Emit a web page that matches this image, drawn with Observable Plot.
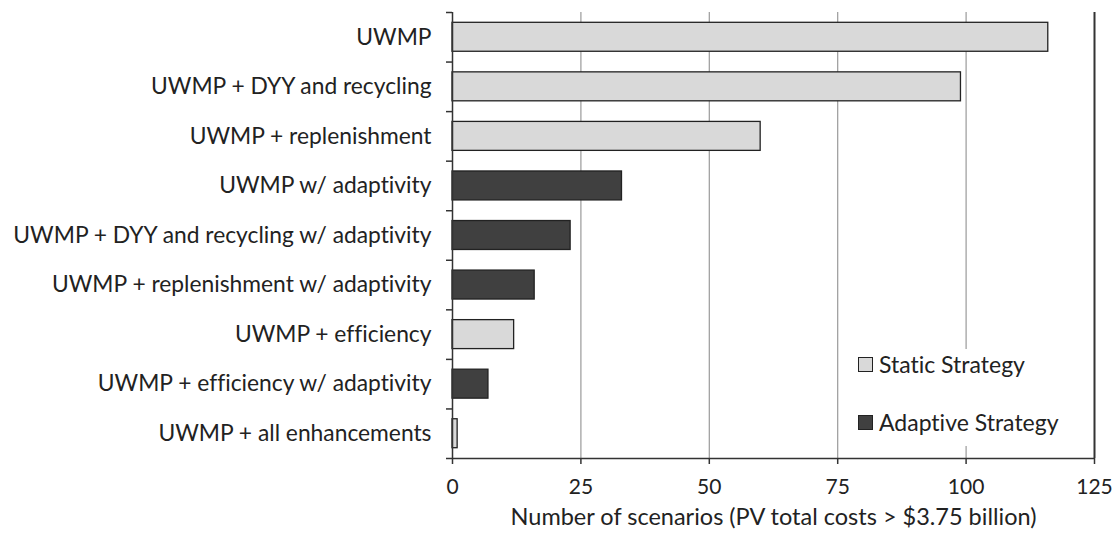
<!DOCTYPE html>
<html><head><meta charset="utf-8">
<script src="https://cdn.jsdelivr.net/npm/d3@7"></script>
<script src="https://cdn.jsdelivr.net/npm/@observablehq/plot@0.6"></script>
<style>
body{margin:0;background:#fff;}
#wrap{position:relative;width:1115px;height:534px;font-family:Lato,sans-serif;font-variant-ligatures:none;}
svg text{font-variant-ligatures:none;}
#legend{position:absolute;left:846px;top:349px;width:244px;height:97px;background:#fff;}
.li{position:absolute;left:12px;display:flex;align-items:center;font-size:23px;color:#222;}
.sw{width:13px;height:13px;border:1.3px solid #222;margin-right:6px;}
</style>
</head><body><div id="wrap"></div>
<script>
const categories = [
  "UWMP",
  "UWMP + DYY and recycling",
  "UWMP + replenishment",
  "UWMP w/ adaptivity",
  "UWMP + DYY and recycling w/ adaptivity",
  "UWMP + replenishment w/ adaptivity",
  "UWMP + efficiency",
  "UWMP + efficiency w/ adaptivity",
  "UWMP + all enhancements"
];
const values = [116, 99, 60, 33, 23, 16, 12, 7, 1];
const strategies = ["Static","Static","Static","Adaptive","Adaptive","Adaptive","Static","Adaptive","Static"];
const strategyNames = ["Static","Adaptive"];
const strategyColors = ["#d9d9d9","#404040"];
const legendLabels = ["Static Strategy","Adaptive Strategy"];
const xTicks = [0,25,50,75,100,125];
const gridTicks = [25,50,75,100];
const xLabel = "Number of scenarios (PV total costs > $3.75 billion)";

const data = categories.map((c,i)=>({category:c, value:values[i], strategy:strategies[i], i}));
const boundaries = d3.range(categories.length+1);
const centers = d3.range(categories.length).map(i=>i+0.5);

const chart = Plot.plot({
  width:1115, height:534,
  marginTop:12, marginBottom:76, marginLeft:452, marginRight:21,
  style:{fontFamily:"Lato, sans-serif", fontSize:"20px", color:"#222", background:"#fff"},
  x:{domain:[0,125]},
  y:{domain:[0,categories.length], reverse:true},
  color:{domain:strategyNames, range:strategyColors},
  marks:[
    Plot.ruleX(gridTicks, {stroke:"#9a9a9a", strokeWidth:1.2}),
    Plot.rectX(data, {x1:0, x2:"value", y1:d=>d.i, y2:d=>d.i+1, insetTop:10.3, insetBottom:10.3,
      fill:"strategy", stroke:"#222", strokeWidth:1.3}),
    Plot.ruleX([125], {stroke:"#333", strokeWidth:2}),
    Plot.ruleX([0], {stroke:"#333", strokeWidth:1.5}),
    Plot.ruleY([categories.length], {stroke:"#333", strokeWidth:1.5}),
    Plot.axisY(centers, {tickSize:0, tickPadding:21, tickFormat:d=>categories[Math.floor(d)], fontSize:22.8, label:null, fill:"#222"}),
    Plot.axisY(boundaries, {tickSize:6, tickFormat:()=>"", label:null, stroke:"#333", strokeWidth:1.5}),
    Plot.axisX(xTicks, {tickSize:6, tickPadding:15, fontSize:21, stroke:"#333", strokeWidth:1.5, fill:"#222", label:null}),
    Plot.text([xLabel], {frameAnchor:"bottom", dy:66, fontSize:23.5, fill:"#222"})
  ]
});
const wrap = document.getElementById("wrap");
wrap.appendChild(chart);
const leg = document.createElement("div");
leg.id = "legend";
legendLabels.forEach((lab,k)=>{
  const it = document.createElement("div");
  it.className = "li";
  it.style.top = (k===0 ? 1 : 59) + "px";
  it.innerHTML = `<span class="sw" style="background:${strategyColors[k]}"></span><span>${lab}</span>`;
  leg.appendChild(it);
});
wrap.appendChild(leg);
</script>
</body></html>
